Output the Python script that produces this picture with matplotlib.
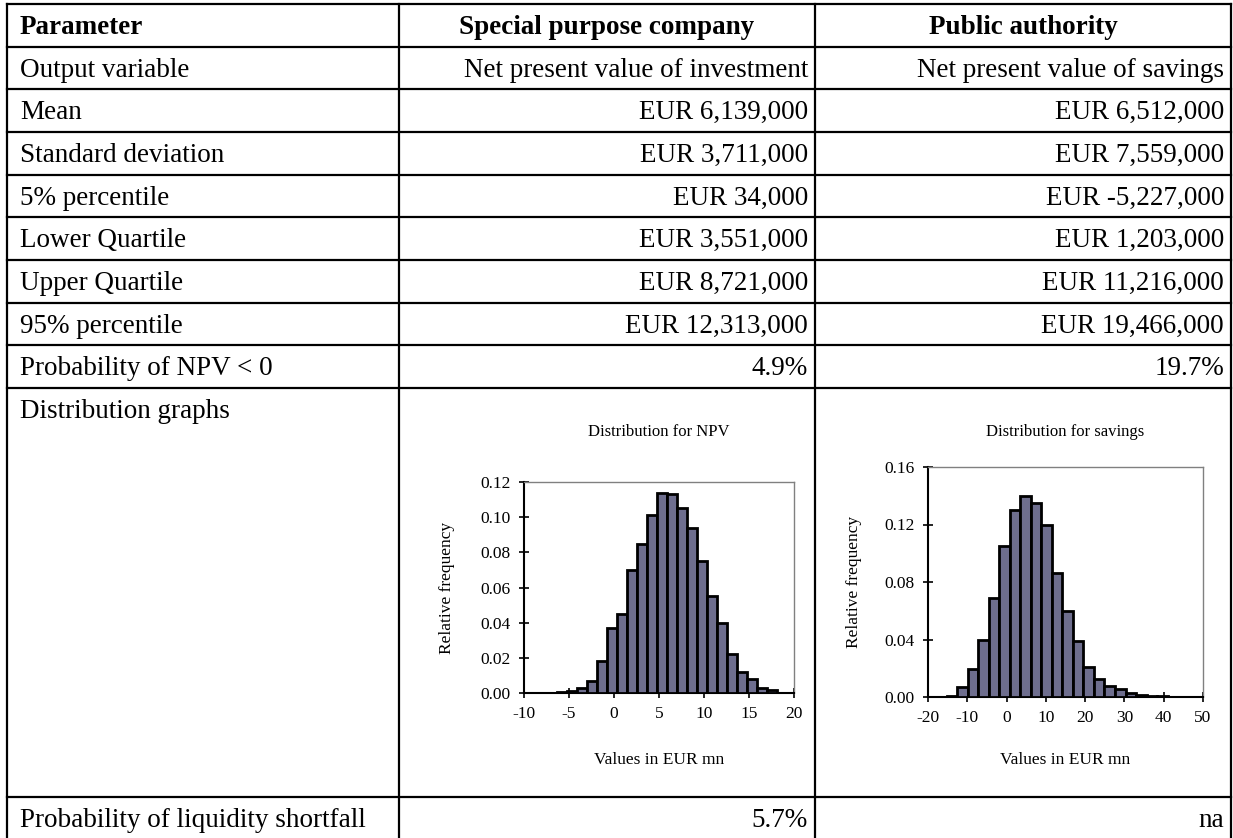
import numpy as np
import matplotlib
matplotlib.use("Agg")
import matplotlib.pyplot as plt

# table content
params = ["Parameter", "Output variable", "Mean", "Standard deviation",
          "5% percentile", "Lower Quartile", "Upper Quartile",
          "95% percentile", "Probability of NPV < 0", "Distribution graphs",
          "Probability of liquidity shortfall"]
spc_col = ["Special purpose company", "Net present value of investment",
           "EUR 6,139,000", "EUR 3,711,000", "EUR 34,000", "EUR 3,551,000",
           "EUR 8,721,000", "EUR 12,313,000", "4.9%", "", "5.7%"]
pub_col = ["Public authority", "Net present value of savings",
           "EUR 6,512,000", "EUR 7,559,000", "EUR -5,227,000", "EUR 1,203,000",
           "EUR 11,216,000", "EUR 19,466,000", "19.7%", "", "na"]

# histogram data (relative frequency per bin)
npv_start, npv_width = -6.3, 1.11
npv_freq = [0.0005, 0.001, 0.003, 0.007, 0.018, 0.037, 0.045, 0.070, 0.085,
            0.101, 0.114, 0.113, 0.105, 0.094, 0.075, 0.055, 0.040, 0.022,
            0.012, 0.008, 0.003, 0.0015]
sav_start, sav_width = -15.2, 2.675
sav_freq = [0.001, 0.007, 0.0195, 0.040, 0.069, 0.105, 0.130, 0.140, 0.135,
            0.120, 0.086, 0.060, 0.039, 0.021, 0.0125, 0.0075, 0.0055, 0.0025,
            0.0015, 0.0007, 0.0005, 0.0003]

W, H = 1233, 838
plt.rcParams["font.family"] = ["Liberation Serif", "DejaVu Serif"]
plt.rcParams["axes.unicode_minus"] = False

fig = plt.figure(figsize=(W / 100, H / 100), dpi=100)
tab = fig.add_axes([0, 0, 1, 1])
tab.set_xlim(0, W)
tab.set_ylim(H, 0)
tab.axis("off")

# grid lines
row_y = [4, 47, 89, 132, 175, 217, 260, 303, 345, 388, 797]
col_x = [7, 399, 815, 1231]
lw = 1.6
for y in row_y:
    tab.plot([col_x[0], col_x[-1]], [y, y], color="black", lw=lw,
             solid_capstyle="projecting")
for x in col_x:
    tab.plot([x, x], [row_y[0], H + 5], color="black", lw=lw,
             solid_capstyle="projecting")

fs = 19.5
for i, (p, a, b) in enumerate(zip(params, spc_col, pub_col)):
    base = row_y[i] + 30
    if i == 0:
        tab.text(20, base, p, fontsize=fs, fontweight="bold", va="baseline")
        tab.text((col_x[1] + col_x[2]) / 2, base, a, fontsize=fs,
                 fontweight="bold", ha="center", va="baseline")
        tab.text((col_x[2] + col_x[3]) / 2, base, b, fontsize=fs,
                 fontweight="bold", ha="center", va="baseline")
    else:
        tab.text(20, base, p, fontsize=fs, va="baseline")
        tab.text(col_x[2] - 7, base, a, fontsize=fs, ha="right", va="baseline")
        tab.text(col_x[3] - 7, base, b, fontsize=fs, ha="right", va="baseline")


def hist_axes(box, start, width, freq, xlim, xticks, ylim, yticks, title):
    x0, x1, y0, y1 = box  # pixel box: left, right, top, bottom
    ax = fig.add_axes([x0 / W, 1 - y1 / H, (x1 - x0) / W, (y1 - y0) / H])
    lefts = start + width * np.arange(len(freq))
    ax.bar(lefts, freq, width=width, align="edge", color="#6e6e8e",
           edgecolor="black", linewidth=2.0, zorder=3)
    ax.set_xlim(*xlim)
    ax.set_ylim(*ylim)
    ax.set_xticks(xticks)
    ax.set_yticks(yticks)
    ax.set_yticklabels([f"{v:.2f}" for v in yticks])
    ax.tick_params(direction="inout", length=7, width=1.2, labelsize=12.5)
    ax.tick_params(axis="x", pad=6)
    ax.tick_params(axis="y", pad=6)
    for s in ["left", "bottom"]:
        ax.spines[s].set_linewidth(1.5)
        ax.spines[s].set_color("black")
    for s in ["top", "right"]:
        ax.spines[s].set_linewidth(1.0)
        ax.spines[s].set_color("#808080")
    ax.set_ylabel("Relative frequency", fontsize=12.5)
    ax.set_xlabel("Values in EUR mn", fontsize=12.5)
    ax.xaxis.set_label_coords(0.5, -(752 - y1) / (y1 - y0))
    ax.set_title(title, fontsize=12, pad=(y0 - 436) * 0.72)
    return ax


ax1 = hist_axes((524, 794, 482, 693), npv_start, npv_width, npv_freq,
                (-10, 20), range(-10, 21, 5), (0, 0.12),
                np.arange(0, 0.121, 0.02), "Distribution for NPV")
ax1.yaxis.set_label_coords(-(524 - 455) / 270, 0.5)

ax2 = hist_axes((928, 1203, 467, 697), sav_start, sav_width, sav_freq,
                (-20, 50), range(-20, 51, 10), (0, 0.16),
                np.arange(0, 0.161, 0.04), "Distribution for savings")
ax2.yaxis.set_label_coords(-(928 - 862) / 275, 0.5)

fig.savefig("out.png", dpi=100)
